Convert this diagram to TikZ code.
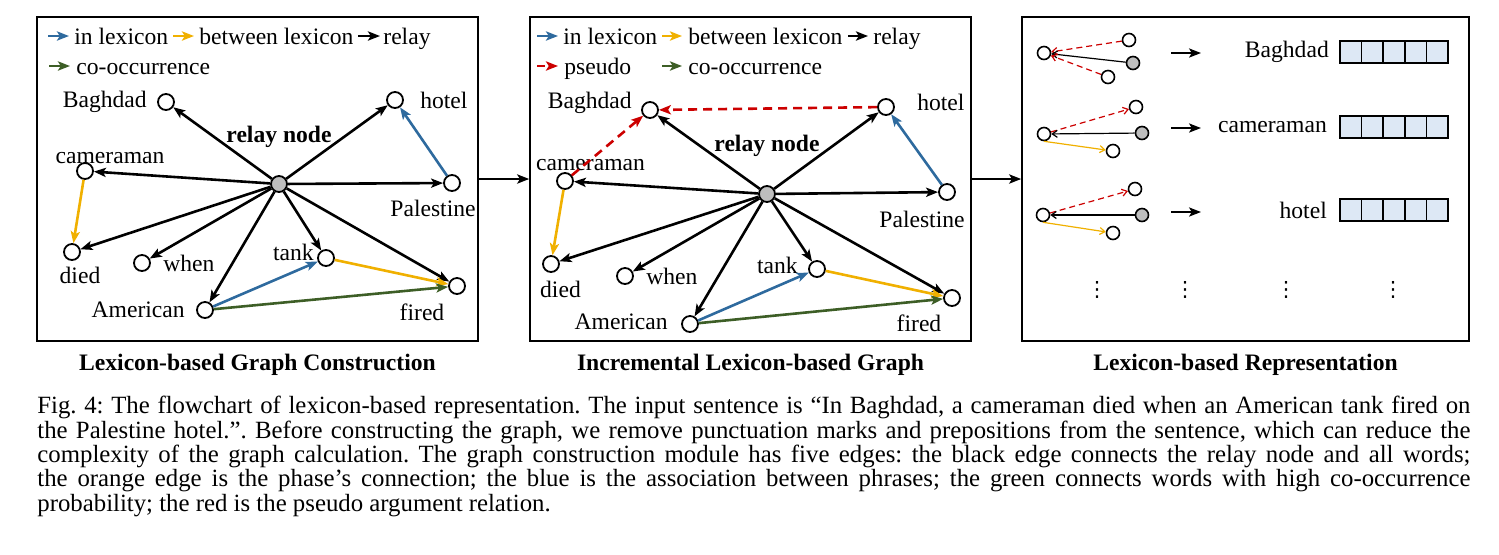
\documentclass[tikz,border=0pt]{standalone}
\usepackage{fontspec}
\setmainfont{Liberation Serif}
\newfontfamily\dotsfont{DejaVu Sans}
\usetikzlibrary{arrows.meta, positioning}
\definecolor{lexblue}{RGB}{46,106,158}
\definecolor{lexorange}{RGB}{240,176,0}
\definecolor{cogreen}{RGB}{61,94,38}
\definecolor{pseudored}{RGB}{204,0,0}
\definecolor{hubgray}{RGB}{190,190,190}
\definecolor{cellblue}{RGB}{221,232,245}
\newcommand\capfont{\fontsize{12.4}{12.15}\selectfont\frenchspacing\lineskiplimit=-6pt\relax}

\begin{document}
\begin{tikzpicture}[
    x=0.5pt, y=-0.5pt,
    >={Stealth[length=6pt, width=4.6pt, inset=1.4pt]},
    frame/.style={draw, line width=0.8pt, minimum height=162pt, inner sep=0pt},
    wd/.style={circle, draw, fill=white, line width=0.9pt, minimum size=8pt, inner sep=0pt},
    hub/.style={wd, fill=hubgray},
    mwd/.style={wd, minimum size=6.5pt, line width=0.8pt},
    mhub/.style={mwd, fill=hubgray},
    lbl/.style={font=\fontsize{11.8}{13}\selectfont, inner sep=1pt},
    ttl/.style={font=\fontsize{11.8}{13}\selectfont\bfseries, inner sep=1pt},
    keytxt/.style={lbl, anchor=base west, inner sep=0pt},
    rel/.style={->, line width=1.3pt},
    inl/.style={rel, lexblue},
    btw/.style={rel, lexorange},
    coo/.style={rel, cogreen},
    psd/.style={rel, pseudored, dash pattern=on 4.5pt off 3pt},
    keyarr/.style={line width=1.2pt},
    mini/.style={-{Straight Barb[length=2.5pt, width=3.5pt]}, line width=0.6pt},
    mpsd/.style={mini, pseudored, dash pattern=on 3pt off 2pt},
    flow/.style={->, line width=1.2pt},
    cell/.style={draw, fill=cellblue, line width=0.8pt, minimum width=10.8pt,
                 minimum height=11pt, inner sep=0pt},
    vdot/.style={font=\dotsfont\fontsize{10.5}{12}\selectfont, inner sep=0pt},
    capbox/.style={text width=716.5pt, align=justify, inner sep=0pt, font=\capfont},
]
\useasboundingbox (0,0) rectangle (1499,554);

% --- Frames ---
\node[frame, minimum width=220.5pt] (box1) at (257.5,179) {};
\node[frame, minimum width=220.5pt] (box2) at (750.5,179) {};
\node[frame, minimum width=223.5pt] (box3) at (1245.5,179) {};

\node[ttl, below=5pt of box1] (t1) {Lexicon-based Graph Construction};
\node[ttl, below=5pt of box2] (t2) {Incremental Lexicon-based Graph};
\node[ttl, below=5pt of box3] (t3) {Lexicon-based Representation};

\draw[flow] (box1.east) -- (box2.west);
\draw[flow] (box2.east) -- (box3.west);

% --- Legend, panel 1 ---
\node[keytxt] (k1a) at (74,44.5) {in lexicon};
\node[keytxt] (k1b) at (199,44.5) {between lexicon};
\node[keytxt] (k1c) at (383,44.5) {relay};
\node[keytxt] (k1d) at (76,74.5) {co-occurrence};
\draw[keyarr, ->, lexblue] ([xshift=-13pt, yshift=4.25pt]k1a.base west) -- ([xshift=-2.5pt, yshift=4.25pt]k1a.base west);
\draw[keyarr, ->, lexorange] ([xshift=-13pt, yshift=4.25pt]k1b.base west) -- ([xshift=-2.5pt, yshift=4.25pt]k1b.base west);
\draw[keyarr, ->] ([xshift=-12.5pt, yshift=4.25pt]k1c.base west) -- ([xshift=-1.5pt, yshift=4.25pt]k1c.base west);
\draw[keyarr, ->, cogreen] ([xshift=-13.5pt, yshift=4.25pt]k1d.base west) -- ([xshift=-3pt, yshift=4.25pt]k1d.base west);

% --- Graph, panel 1 ---
\node[hub] (r1) at (279,184) {};
\node[wd] (bag1) at (166,102) {};
\node[wd] (hot1) at (395,100) {};
\node[wd] (cam1) at (85,171) {};
\node[wd] (pal1) at (452,183) {};
\node[wd] (die1) at (72,252) {};
\node[wd] (whe1) at (142,263) {};
\node[wd] (tan1) at (326,258) {};
\node[wd] (fir1) at (457,286) {};
\node[wd] (ame1) at (205,310) {};

\node[ttl, above=12.5pt of r1] (r1t) {relay node};
\node[lbl, left=4pt of bag1] (bag1t) {Baghdad};
\node[lbl, right=7pt of hot1] (hot1t) {hotel};
\node[lbl, above=-2pt of cam1, xshift=12.5pt] (cam1t) {cameraman};
\node[lbl, below=3pt of pal1, xshift=-9.5pt] (pal1t) {Palestine};
\node[lbl, below=2pt of die1, xshift=4pt] (die1t) {died};
\node[lbl, right=5pt of whe1] (whe1t) {when};
\node[lbl, left=0.5pt of tan1, yshift=3pt] (tan1t) {tank};
\node[lbl, below=3.5pt of fir1, xshift=-17.5pt] (fir1t) {fired};
\node[lbl, left=4.5pt of ame1] (ame1t) {American};

\draw[rel] (r1) -- (bag1);
\draw[rel] (r1) -- (hot1);
\draw[rel] (r1) -- (cam1);
\draw[rel] (r1) -- (pal1);
\draw[rel] (r1) -- (die1);
\draw[rel] (r1) -- (whe1);
\draw[rel] (r1) -- (tan1);
\draw[rel] (r1) -- (fir1);
\draw[rel] (r1) -- (ame1);
\draw[inl] (pal1) -- (hot1);
\draw[btw] (cam1) -- (die1);
\draw[btw] (tan1) -- (fir1);
\draw[inl] (ame1) -- (tan1);
\draw[coo] (ame1) -- (fir1);

% --- Legend, panel 2 ---
\node[keytxt] (k2a) at (563,44.5) {in lexicon};
\node[keytxt] (k2b) at (688,44.5) {between lexicon};
\node[keytxt] (k2c) at (873,44.5) {relay};
\node[keytxt] (k2d) at (564,74.5) {pseudo};
\node[keytxt] (k2e) at (688,74.5) {co-occurrence};
\draw[keyarr, ->, lexblue] ([xshift=-13pt, yshift=4.25pt]k2a.base west) -- ([xshift=-2.5pt, yshift=4.25pt]k2a.base west);
\draw[keyarr, ->, lexorange] ([xshift=-13pt, yshift=4.25pt]k2b.base west) -- ([xshift=-3pt, yshift=4.25pt]k2b.base west);
\draw[keyarr, ->] ([xshift=-12.5pt, yshift=4.25pt]k2c.base west) -- ([xshift=-2.5pt, yshift=4.25pt]k2c.base west);
\draw[keyarr, ->, pseudored, dash pattern=on 4pt off 2.5pt] ([xshift=-13.5pt, yshift=4.25pt]k2d.base west) -- ([xshift=-3pt, yshift=4.25pt]k2d.base west);
\draw[keyarr, ->, cogreen] ([xshift=-13pt, yshift=4.25pt]k2e.base west) -- ([xshift=-3pt, yshift=4.25pt]k2e.base west);

% --- Graph, panel 2 ---
\node[hub] (r2) at (767,194) {};
\node[wd] (bag2) at (650,110) {};
\node[wd] (hot2) at (886,107) {};
\node[wd] (cam2) at (565,181) {};
\node[wd] (pal2) at (947,192) {};
\node[wd] (die2) at (551,264) {};
\node[wd] (whe2) at (625,276) {};
\node[wd] (tan2) at (817,269) {};
\node[wd] (fir2) at (952,298) {};
\node[wd] (ame2) at (690,324) {};

\node[ttl, above=13pt of r2] (r2t) {relay node};
\node[lbl, left=3.5pt of bag2, yshift=3.5pt] (bag2t) {Baghdad};
\node[lbl, right=10pt of hot2, yshift=2.25pt] (hot2t) {hotel};
\node[lbl, above=-0.5pt of cam2, xshift=12.75pt] (cam2t) {cameraman};
\node[lbl, below=4pt of pal2, xshift=-12.5pt] (pal2t) {Palestine};
\node[lbl, below=3pt of die2, xshift=4.75pt] (die2t) {died};
\node[lbl, right=5pt of whe2] (whe2t) {when};
\node[lbl, left=4pt of tan2, yshift=2pt] (tan2t) {tank};
\node[lbl, below=3pt of fir2, xshift=-16.5pt] (fir2t) {fired};
\node[lbl, left=5.5pt of ame2, yshift=1.25pt] (ame2t) {American};

\draw[rel] (r2) -- (bag2);
\draw[rel] (r2) -- (hot2);
\draw[rel] (r2) -- (cam2);
\draw[rel] (r2) -- (pal2);
\draw[rel] (r2) -- (die2);
\draw[rel] (r2) -- (whe2);
\draw[rel] (r2) -- (tan2);
\draw[rel] (r2) -- (fir2);
\draw[rel] (r2) -- (ame2);
\draw[inl] (pal2) -- (hot2);
\draw[btw] (cam2) -- (die2);
\draw[btw] (tan2) -- (fir2);
\draw[inl] (ame2) -- (tan2);
\draw[coo] (ame2) -- (fir2);
\draw[psd] (hot2) -- (bag2);
\draw[psd] (cam2) -- (bag2);

% --- Panel 3: per-word subgraphs ---
\node[mwd] (m1a) at (1044,53) {};
\node[mwd] (m1b) at (1129,40) {};
\node[mhub] (m1c) at (1133,63) {};
\node[mwd] (m1d) at (1108,77) {};
\draw[mpsd] (m1b) -- (m1a);
\draw[mini] (m1c) -- (m1a);
\draw[mpsd] (m1d) -- (m1a);

\node[mwd] (m2a) at (1044,134) {};
\node[mwd] (m2b) at (1136,107) {};
\node[mhub] (m2c) at (1142,133) {};
\node[mwd] (m2d) at (1113,151) {};
\draw[mpsd] (m2a) -- (m2b);
\draw[mini] (m2c) -- (m2a);
\draw[mini, lexorange] (m2a.south) -- (m2d);

\node[mwd] (m3a) at (1043,215) {};
\node[mwd] (m3b) at (1135,189) {};
\node[mhub] (m3c) at (1142,215) {};
\node[mwd] (m3d) at (1113,233) {};
\draw[mpsd] (m3a) -- (m3b);
\draw[mini] (m3c) -- (m3a);
\draw[mini, lexorange] (m3a.south) -- (m3d);

% --- Embedding vectors ---
\foreach \i in {1,...,5} {
  \node[cell] (v1-\i) at ({1340+21.6*(\i-0.5)},52) {};
  \node[cell] (v2-\i) at ({1340+21.6*(\i-0.5)},127) {};
  \node[cell] (v3-\i) at ({1340+21.6*(\i-0.5)},210) {};
}
\node[lbl, left=4pt of v1-1] (w1) {Baghdad};
\node[lbl, left=5pt of v2-1] (w2) {cameraman};
\node[lbl, left=5pt of v3-1] (w3) {hotel};

\coordinate (a1s) at (1171,53);
\coordinate (a1e) at (1201,53);
\coordinate (a2s) at (1171,128);
\coordinate (a2e) at (1201,128);
\coordinate (a3s) at (1171,212);
\coordinate (a3e) at (1201,212);
\draw[flow, line width=0.8pt] (a1s) -- (a1e);
\draw[flow, line width=0.8pt] (a2s) -- (a2e);
\draw[flow, line width=0.8pt] (a3s) -- (a3e);

\node[vdot] (dt1) at (1097,290) {⋮};
\node[vdot] (dt2) at (1185,290) {⋮};
\node[vdot] (dt3) at (1286,290) {⋮};
\node[vdot] (dt4) at (1393,290) {⋮};

% --- Caption ---
\node[capbox, anchor=north west] (capt) at (37,396) {Fig.~4: The flowchart of lexicon-based representation. The input sentence is “In Baghdad, a cameraman died when an American tank fired on\linebreak
the Palestine hotel.”. Before constructing the graph, we remove punctuation marks and prepositions from the sentence, which can reduce the\linebreak
complexity of the graph calculation. The graph construction module has five edges: the black edge connects the relay node and all words;\linebreak
the orange edge is the phase’s connection; the blue is the association between phrases; the green connects words with high co-occurrence\linebreak
probability; the red is the pseudo argument relation.};

\end{tikzpicture}
\end{document}
